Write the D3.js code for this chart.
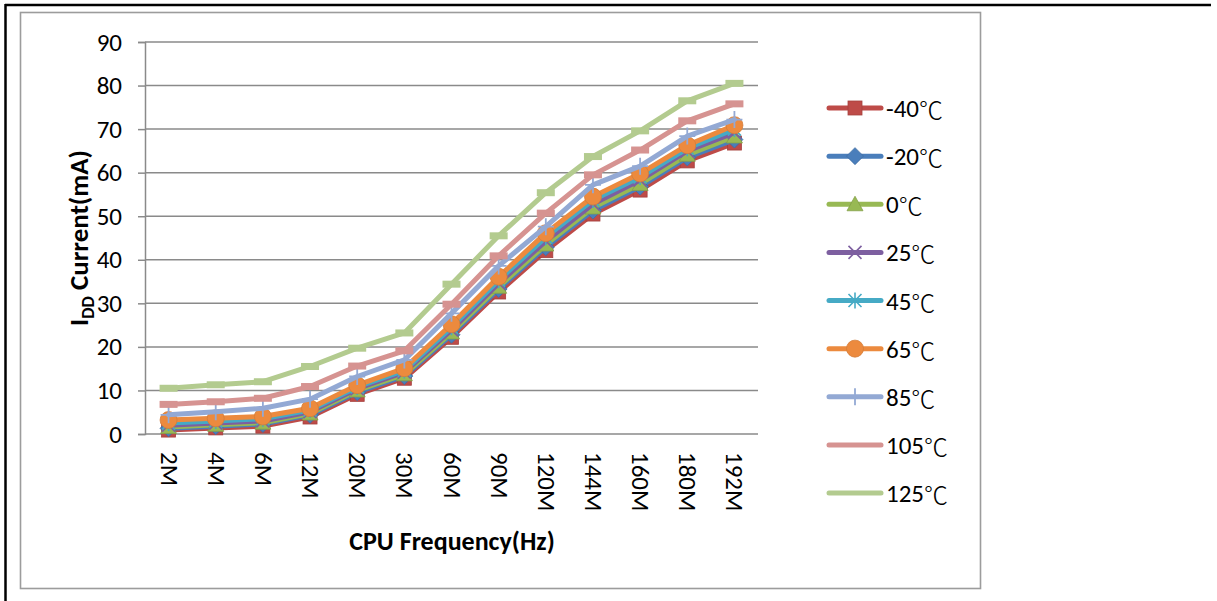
<!DOCTYPE html>
<html>
<head>
<meta charset="utf-8">
<script src="https://cdn.jsdelivr.net/npm/d3@7"></script>
<style>
  html, body { margin: 0; padding: 0; background: #fff; }
  svg { display: block; }
  text { font-family: Carlito, Calibri, Lato, "Noto Sans CJK SC", sans-serif; fill: #000; }
</style>
</head>
<body>
<svg id="chart" width="1217" height="601"></svg>
<script>
// CPU frequency steps on the category axis
const categories = ["2M","4M","6M","12M","20M","30M","60M","90M","120M","144M","160M","180M","192M"];
const yTicks = [0,10,20,30,40,50,60,70,80,90];

// IDD current (mA) per temperature
const tMinus40 = [0.9, 1.4, 1.8, 3.9, 9.1, 12.8, 22.2, 32.6, 42.1, 50.5, 56.0, 62.7, 66.8];
const tMinus20 = [1.3, 1.8, 2.3, 4.4, 9.6, 13.3, 22.8, 33.3, 42.9, 51.3, 56.8, 63.5, 67.6];
const t0       = [1.6, 2.1, 2.6, 4.7, 10.0, 13.7, 23.3, 33.8, 43.5, 52.0, 57.4, 64.1, 68.3];
const t25      = [2.0, 2.5, 3.0, 5.1, 10.4, 14.2, 23.9, 34.6, 44.3, 52.8, 58.3, 65.0, 69.2];
const t45      = [2.5, 3.0, 3.5, 5.5, 10.8, 14.6, 24.5, 35.3, 45.2, 53.7, 59.0, 65.6, 70.0];
const t65      = [3.2, 3.6, 4.0, 5.9, 11.2, 15.1, 25.2, 36.1, 46.1, 54.5, 59.8, 66.3, 70.9];
const t85      = [4.4, 5.1, 5.9, 8.0, 13.2, 17.0, 27.7, 38.6, 47.6, 57.2, 61.5, 68.4, 72.2];
const t105     = [6.8, 7.4, 8.2, 10.9, 15.6, 19.1, 29.8, 40.9, 50.7, 59.5, 65.2, 71.9, 75.8];
const t125     = [10.5, 11.3, 12.0, 15.5, 19.7, 23.2, 34.4, 45.5, 55.4, 63.7, 69.6, 76.5, 80.5];

const seriesNames = ["-40℃","-20℃","0℃","25℃","45℃","65℃","85℃","105℃","125℃"];
const seriesValues = [tMinus40, tMinus20, t0, t25, t45, t65, t85, t105, t125];
const seriesColors = ["#BE4B48","#4A7EBB","#98B954","#7D5FA0","#46AAC5","#EC8A3E","#93A9D4","#D69391","#B3CB8F"];
const seriesMarkers = ["square","diamond","triangle","x","star","circle","plus","dash","dash"];

const svg = d3.select("#chart");

// page frame and chart area border
svg.append("line").attr("x1", 5).attr("y1", 5).attr("x2", 1211).attr("y2", 5)
  .attr("stroke", "#000").attr("stroke-width", 2.5);
svg.append("line").attr("x1", 5.5).attr("y1", 4).attr("x2", 5.5).attr("y2", 601)
  .attr("stroke", "#000").attr("stroke-width", 2.5);
svg.append("rect").attr("x", 20.5).attr("y", 12.5).attr("width", 960).attr("height", 576)
  .attr("fill", "#fff").attr("stroke", "#9c9c9c").attr("stroke-width", 1.6);

const plotLeft = 145, plotRight = 758, plotTop = 42, plotBottom = 434;

const x = d3.scalePoint().domain(categories).range([plotLeft, plotRight]).padding(0.5);
const y = d3.scaleLinear().domain([0, 90]).range([plotBottom, plotTop]);

// horizontal gridlines
svg.append("g").selectAll("line").data(yTicks.filter(d => d > 0)).join("line")
  .attr("x1", plotLeft).attr("x2", plotRight)
  .attr("y1", d => y(d)).attr("y2", d => y(d))
  .attr("stroke", "#8a8a8a").attr("stroke-width", 1.5);

// y axis
const yAxis = svg.append("g").attr("transform", `translate(${plotLeft},0)`)
  .call(d3.axisLeft(y).tickValues(yTicks).tickSize(7).tickPadding(16).tickFormat(d3.format("d")));
yAxis.select(".domain").attr("stroke", "#8a8a8a").attr("stroke-width", 1.5);
yAxis.selectAll(".tick line").attr("stroke", "#8a8a8a").attr("stroke-width", 1.5);
yAxis.selectAll(".tick text").attr("font-size", 25).style("font-family", "Carlito, Calibri, Lato, sans-serif");

// x axis with vertical labels
const xAxis = svg.append("g").attr("transform", `translate(0,${plotBottom})`)
  .call(d3.axisBottom(x).tickSize(0).tickPadding(0));
xAxis.select(".domain").attr("d", `M${plotLeft},0H${plotRight}`).attr("stroke", "#8a8a8a").attr("stroke-width", 1.5);
xAxis.selectAll(".tick text")
  .attr("font-size", 25)
  .style("font-family", "Carlito, Calibri, Lato, sans-serif")
  .attr("text-anchor", "start")
  .attr("dy", null)
  .attr("dominant-baseline", "central")
  .attr("transform", "translate(0,18) rotate(90)")
  .attr("y", 0).attr("x", 0);

// axis titles
svg.append("text")
  .attr("x", 452).attr("y", 550)
  .attr("text-anchor", "middle").attr("font-size", 26).attr("font-weight", "bold")
  .text("CPU Frequency(Hz)");

const yTitle = svg.append("text")
  .attr("transform", `translate(88,${(plotTop + plotBottom) / 2}) rotate(-90)`)
  .attr("text-anchor", "middle").attr("font-size", 27).attr("font-weight", "bold");
yTitle.append("tspan").text("I");
yTitle.append("tspan").attr("font-size", 18).attr("dy", 6).text("DD");
yTitle.append("tspan").attr("dy", -6).text(" Current(mA)");

// marker drawing
function drawMarker(g, type, color, cx, cy) {
  const m = g.append("g").attr("transform", `translate(${cx},${cy})`);
  switch (type) {
    case "square":
      m.append("rect").attr("x", -7).attr("y", -7).attr("width", 14).attr("height", 14)
        .attr("fill", color).attr("stroke", d3.color(color).darker(0.4)).attr("stroke-width", 0.8);
      break;
    case "diamond":
      m.append("path").attr("d", "M0,-8.5L8.5,0L0,8.5L-8.5,0Z")
        .attr("fill", color).attr("stroke", d3.color(color).darker(0.4)).attr("stroke-width", 0.8);
      break;
    case "triangle":
      m.append("path").attr("d", "M0,-8L8,6.5L-8,6.5Z")
        .attr("fill", color).attr("stroke", d3.color(color).darker(0.4)).attr("stroke-width", 0.8);
      break;
    case "x":
      m.append("path").attr("d", "M-6.5,-6.5L6.5,6.5M-6.5,6.5L6.5,-6.5")
        .attr("stroke", color).attr("stroke-width", 1.6).attr("fill", "none");
      break;
    case "star":
      m.append("path").attr("d", "M-6.5,-6.5L6.5,6.5M-6.5,6.5L6.5,-6.5M0,-8L0,8")
        .attr("stroke", color).attr("stroke-width", 1.6).attr("fill", "none");
      break;
    case "circle":
      m.append("circle").attr("r", 8.5).attr("fill", color)
        .attr("stroke", d3.color(color).darker(0.3)).attr("stroke-width", 0.8);
      break;
    case "plus":
      m.append("path").attr("d", "M0,-8.5L0,8.5M-8,0L8,0")
        .attr("stroke", color).attr("stroke-width", 1.8).attr("fill", "none");
      break;
    case "dash":
      m.append("rect").attr("x", -9).attr("y", -3.5).attr("width", 18).attr("height", 7)
        .attr("fill", color);
      break;
  }
}

// series: line first, then markers, later series on top
const line = d3.line().x((d, i) => x(categories[i])).y(d => y(d));
seriesValues.forEach((vals, s) => {
  const g = svg.append("g");
  g.append("path").datum(vals).attr("d", line)
    .attr("fill", "none").attr("stroke", seriesColors[s]).attr("stroke-width", 5)
    .attr("stroke-linejoin", "round").attr("stroke-linecap", "round");
  vals.forEach((v, i) => drawMarker(g, seriesMarkers[s], seriesColors[s], x(categories[i]), y(v)));
});

// legend: the degree-Celsius sign is set in a CJK face
const legendY = d3.scalePoint().domain(seriesNames).range([108, 493]);
seriesNames.forEach((name, s) => {
  const cy = legendY(name);
  const g = svg.append("g");
  g.append("line").attr("x1", 829).attr("x2", 881).attr("y1", cy).attr("y2", cy)
    .attr("stroke", seriesColors[s]).attr("stroke-width", 5).attr("stroke-linecap", "round");
  if (seriesMarkers[s] !== "dash") drawMarker(g, seriesMarkers[s], seriesColors[s], 855, cy);
  const t = g.append("text").attr("x", 886).attr("y", cy).attr("dominant-baseline", "central")
    .attr("font-size", 25);
  const parts = name.split("℃");
  t.append("tspan").text(parts[0]);
  t.append("tspan").style("font-family", "'Noto Sans CJK SC', 'Noto Sans CJK JP', sans-serif")
    .attr("font-weight", 300).attr("font-size", 24).text("℃");
});
</script>
</body>
</html>
